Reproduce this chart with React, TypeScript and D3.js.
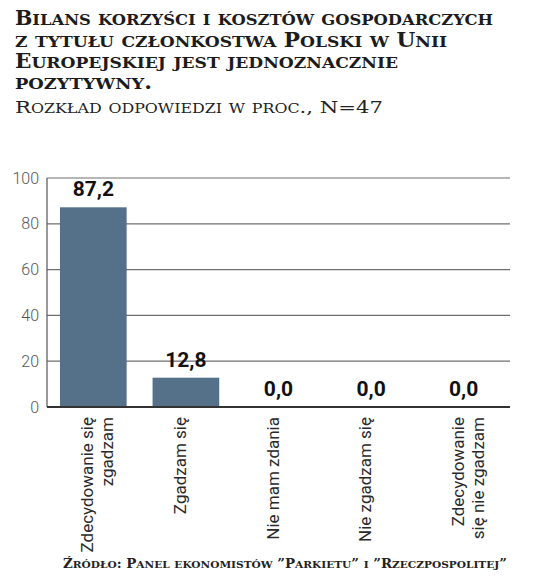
import React from "react";
import * as d3 from "d3";

const categories = [
  ["Zdecydowanie się", "zgadzam"],
  ["Zgadzam się"],
  ["Nie mam zdania"],
  ["Nie zgadzam się"],
  ["Zdecydowanie", "się nie zgadzam"],
];
const values = [87.2, 12.8, 0.0, 0.0, 0.0];
const yTicks = [0, 20, 40, 60, 80, 100];
const titleLines = [
  "Bilans korzyści i kosztów gospodarczych",
  "z tytułu członkostwa Polski w Unii",
  "Europejskiej jest jednoznacznie",
  "pozytywny.",
];
const subtitle = "Rozkład odpowiedzi w proc., N=47";
const source = "Źródło: Panel ekonomistów ”Parkietu” i ”Rzeczpospolitej”";

const W = 536;
const H = 578;
const M = { left: 47, right: 510, top: 178, bottom: 407 };

function smallCaps(text: string, big: number, small: number) {
  const parts: { t: string; s: number }[] = [];
  for (const ch of text) {
    const isLower = ch !== ch.toUpperCase();
    const s = isLower ? small : big;
    const t = ch.toUpperCase();
    if (parts.length && parts[parts.length - 1].s === s) parts[parts.length - 1].t += t;
    else parts.push({ t, s });
  }
  return parts.map((p, i) => (
    <tspan key={i} fontSize={p.s}>
      {p.t}
    </tspan>
  ));
}

export default function App() {
  const keys = categories.map((c) => c.join(" "));
  const x = d3
    .scaleBand<string>()
    .domain(keys)
    .range([M.left, M.right])
    .paddingInner(0.28)
    .paddingOuter(0.14);
  const y = d3.scaleLinear().domain([0, 100]).range([M.bottom, M.top]);
  const fmt = (v: number) => d3.format(".1f")(v).replace(".", ",");

  const titleWidths = [478, 432, 383, 137];
  const titleBase = [25, 47, 68, 89];
  const serif = "'DejaVu Serif', serif";
  const sans = "Roboto, 'Noto Sans', sans-serif";

  return (
    <svg
      width={W}
      height={H}
      style={{ position: "absolute", left: 0, top: 0, background: "#fff" }}
    >
      <rect width={W} height={H} fill="#fff" />
      {titleLines.map((l, i) => (
        <text
          key={i}
          x={15}
          y={titleBase[i]}
          fontFamily={serif}
          fontWeight="bold"
          fill="#1c1c1c"
          textLength={titleWidths[i]}
          lengthAdjust="spacingAndGlyphs"
        >
          {smallCaps(l, 19.5, 15.5)}
        </text>
      ))}
      <text
        x={15}
        y={113}
        fontFamily={serif}
        fill="#222"
        textLength={368}
        lengthAdjust="spacingAndGlyphs"
      >
        {smallCaps(subtitle, 16, 12)}
      </text>

      {yTicks.map((t) => (
        <g key={t}>
          {t > 0 && (
            <line
              x1={M.left}
              x2={M.right}
              y1={y(t)}
              y2={y(t)}
              stroke="#6e6e6e"
              strokeWidth={1.2}
            />
          )}
          <text
            x={39}
            y={y(t)}
            textAnchor="end"
            dominantBaseline="central"
            fontFamily={sans}
            fontWeight={300}
            fontSize={16}
            fill="#555"
          >
            {t}
          </text>
        </g>
      ))}
      <line x1={M.left} x2={M.left} y1={M.top} y2={M.bottom} stroke="#555" strokeWidth={1.2} />

      {values.map((v, i) => (
        <rect
          key={i}
          x={x(keys[i])!}
          y={y(v)}
          width={x.bandwidth()}
          height={M.bottom - y(v)}
          fill="#557089"
        />
      ))}
      <line x1={M.left} x2={M.right} y1={M.bottom} y2={M.bottom} stroke="#333" strokeWidth={2} />

      {values.map((v, i) => (
        <text
          key={i}
          x={x(keys[i])! + x.bandwidth() / 2}
          y={y(v) - 11}
          textAnchor="middle"
          fontFamily={sans}
          fontWeight="bold"
          fontSize={21}
          fill="#111"
        >
          {fmt(v)}
        </text>
      ))}

      {categories.map((lines, i) => {
        const cx = x(keys[i])! + x.bandwidth() / 2;
        return lines.map((ln, j) => (
          <text
            key={i + "-" + j}
            transform={`translate(${cx + j * 20},417) rotate(-90)`}
            textAnchor="end"
            fontFamily={sans}
            fontWeight={400}
            fontSize={17}
            fill="#2a2a2a"
          >
            {ln}
          </text>
        ));
      })}

      <text
        x={63}
        y={568}
        fontFamily={serif}
        fontWeight="bold"
        fill="#222"
        textLength={444}
        lengthAdjust="spacingAndGlyphs"
      >
        {smallCaps(source, 12, 9.5)}
      </text>
    </svg>
  );
}
